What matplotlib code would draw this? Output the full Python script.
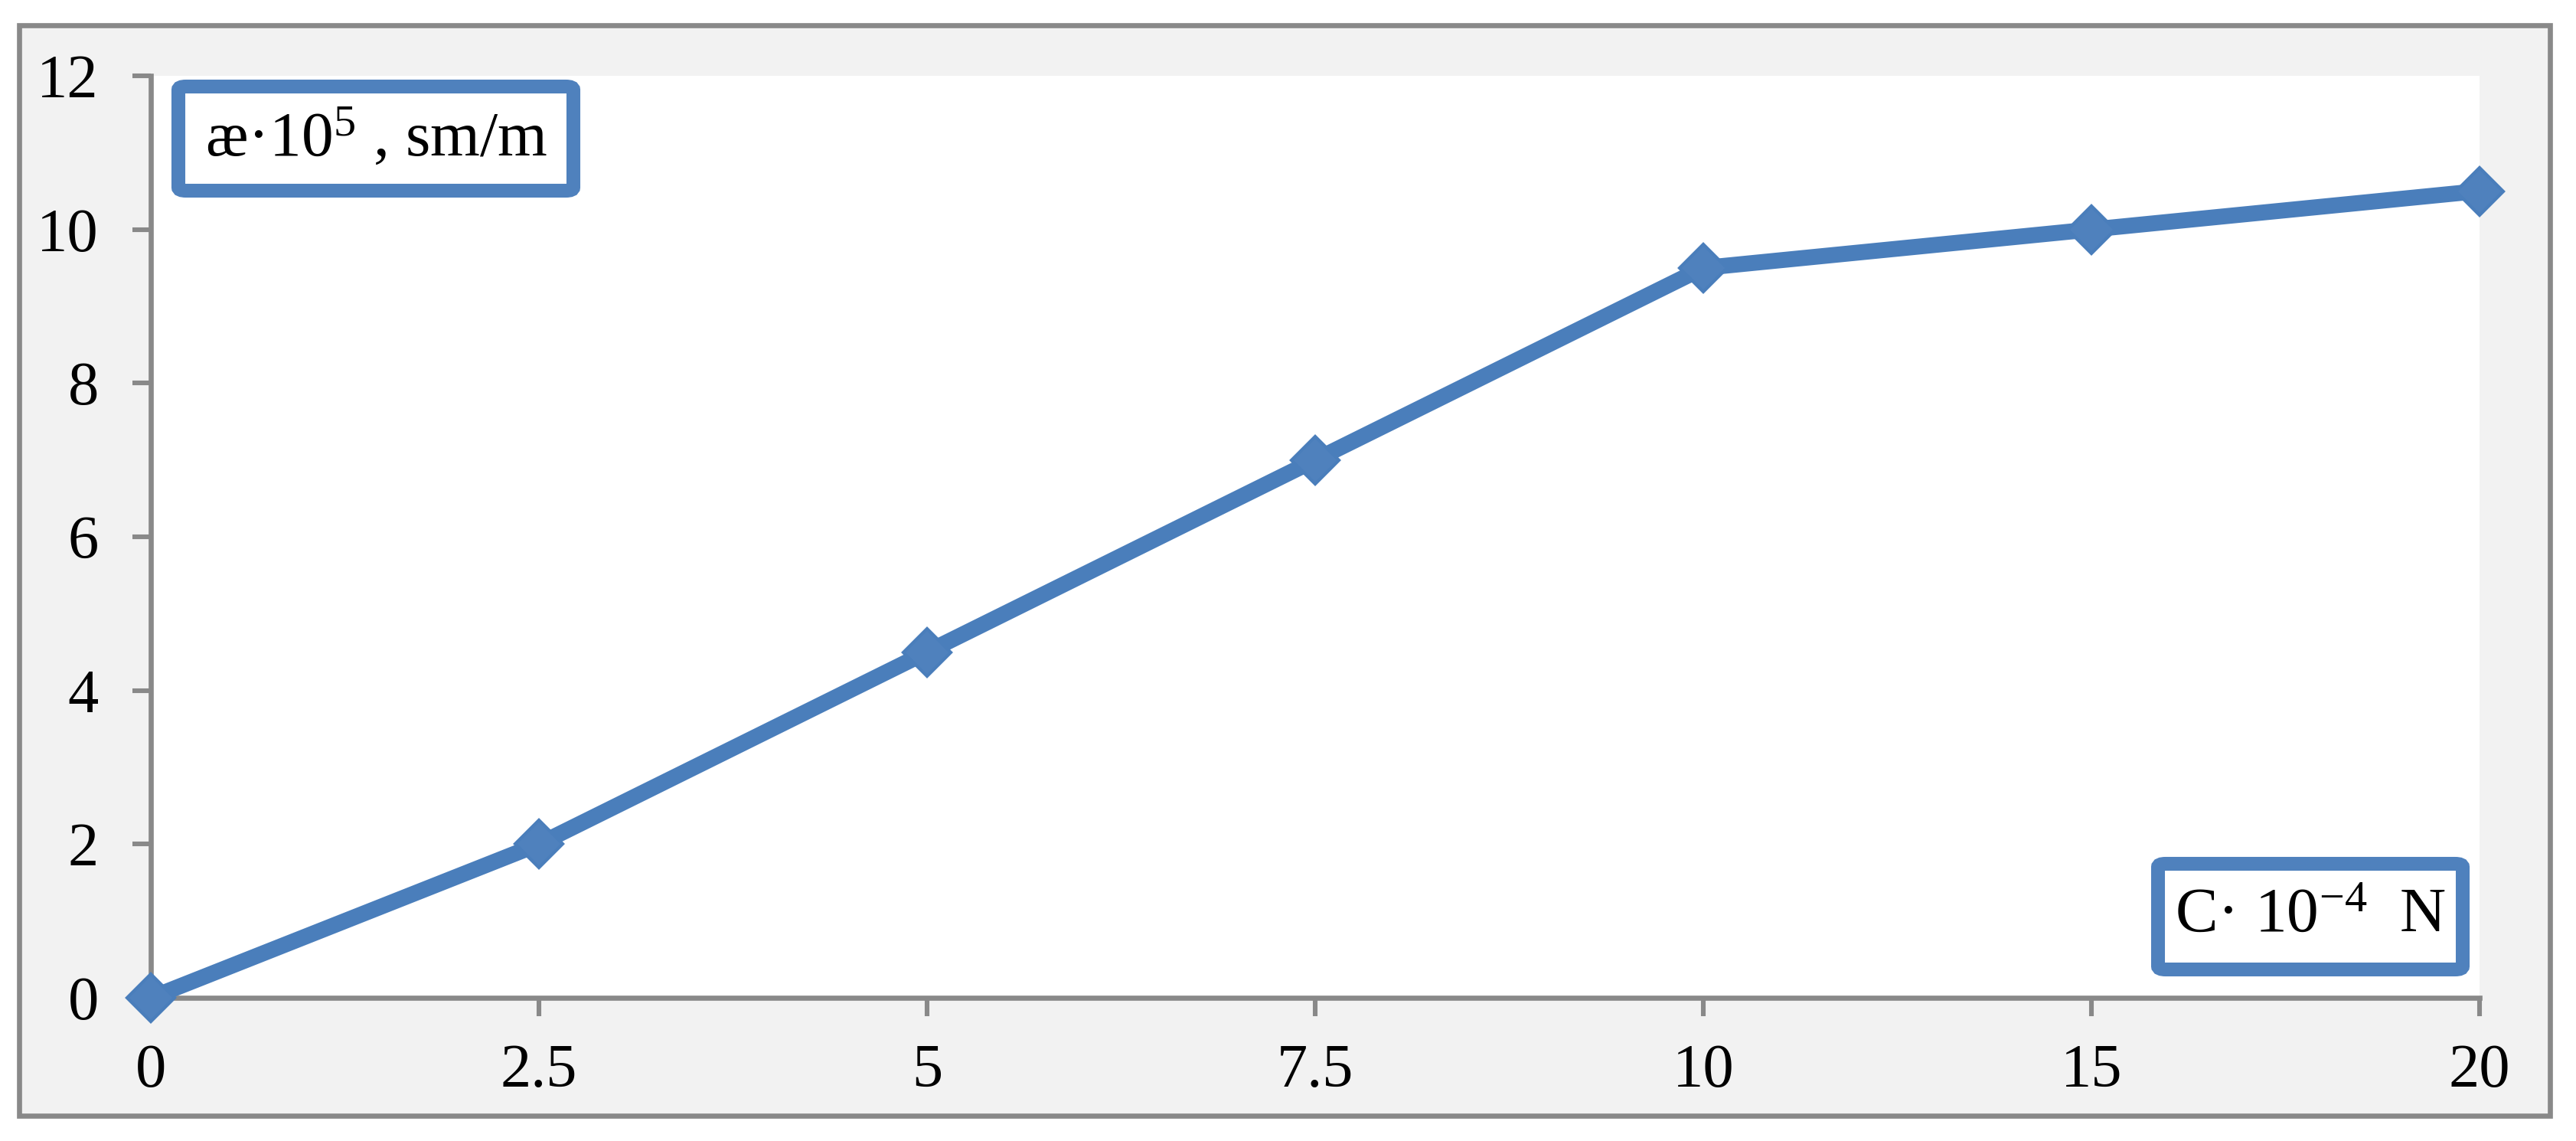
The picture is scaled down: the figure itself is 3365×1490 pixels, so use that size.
import numpy as np
import matplotlib
matplotlib.use('Agg')
import matplotlib.pyplot as plt
from matplotlib.patches import Rectangle, FancyBboxPatch

# data (x is categorical -- equally spaced in the original)
x_labels = ['0', '2.5', '5', '7.5', '10', '15', '20']
kappa = [0, 2, 4.5, 7, 9.5, 10, 10.5]
y_ticks = [0, 2, 4, 6, 8, 10, 12]

LINE = '#4A7EBB'
FILL = '#4F81BD'
GRAY = '#898989'

plt.rcParams['font.family'] = ['Liberation Serif', 'DejaVu Serif']
plt.rcParams['mathtext.fontset'] = 'custom'
plt.rcParams['mathtext.rm'] = 'Liberation Serif'
plt.rcParams['mathtext.it'] = 'Liberation Serif'

W, H = 3365, 1490
DPI = 200
fig = plt.figure(figsize=(W / DPI, H / DPI), dpi=DPI, facecolor='white')


def fx(px):
    return px / W


def fy(py):
    return 1 - py / H


# outer grey chart frame
frame = Rectangle((fx(25), fy(1457)), fx(3331) - fx(25), fy(33) - fy(1457),
                  transform=fig.transFigure, facecolor='#F2F2F2',
                  edgecolor=GRAY, linewidth=2.4, zorder=0)
fig.add_artist(frame)

ax = fig.add_axes([fx(197), fy(1303), fx(3239) - fx(197), fy(99) - fy(1303)])
ax.set_facecolor('white')

xi = np.arange(len(x_labels))
ax.plot(xi, kappa, color=LINE, linewidth=7.5, marker='D', markersize=16,
        markerfacecolor=FILL, markeredgecolor=LINE, markeredgewidth=1.5,
        solid_joinstyle='round', clip_on=False, zorder=5)

ax.set_xlim(0, len(x_labels) - 1)
ax.set_ylim(0, 12)
ax.set_xticks(xi)
ax.set_xticklabels(x_labels)
ax.set_yticks(y_ticks)

for s in ('top', 'right'):
    ax.spines[s].set_visible(False)
for s in ('left', 'bottom'):
    ax.spines[s].set_color(GRAY)
    ax.spines[s].set_linewidth(2.4)

ax.tick_params(axis='both', direction='out', length=8.5, width=2.2,
               color=GRAY, labelsize=29, labelcolor='black')
ax.tick_params(axis='x', pad=13)
ax.tick_params(axis='y', pad=16)

# label boxes
for (x0, y0, x1, y1, txt) in [
    (233, 113, 749, 249, '\u00e6\u00b710$^{5}$ , sm/m'),
    (2819, 1128, 3217, 1266, 'C\u00b7 10$^{-4}$  N'),
]:
    box = FancyBboxPatch((fx(x0), fy(y1)), fx(x1) - fx(x0), fy(y0) - fy(y1),
                         boxstyle='round,pad=0,rounding_size=0.003',
                         transform=fig.transFigure, facecolor='white',
                         edgecolor=FILL, linewidth=6.5, zorder=10)
    fig.add_artist(box)
    fig.text(fx((x0 + x1) / 2), fy((y0 + y1) / 2), txt, ha='center', va='center',
             fontsize=30, color='black', zorder=11)

fig.savefig('out.png', dpi=DPI, facecolor='white')
